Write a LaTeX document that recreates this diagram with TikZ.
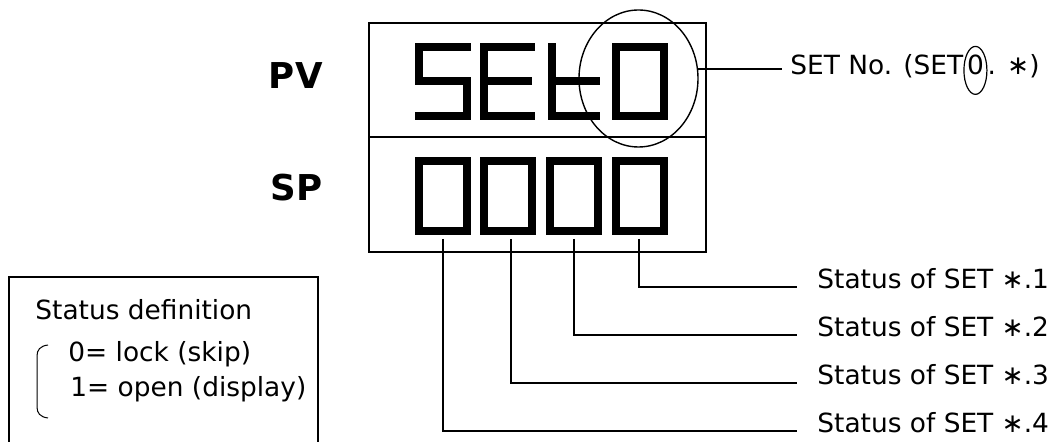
\documentclass[tikz,border=0pt]{standalone}
\usepackage{fontspec}
\setmainfont{DejaVu Sans}
\usetikzlibrary{positioning, calc, shapes.geometric}

\tikzset{
  seg/.style={line width=4pt, line cap=rect, line join=miter},
  lead/.style={line width=0.85pt},
  lbl/.style={font=\fontsize{13.2}{15}\selectfont, inner sep=0pt},
  tag/.style={font=\fontsize{17.8}{20}\selectfont\bfseries, inner sep=0pt, anchor=base east},
}

\begin{document}
\begin{tikzpicture}[x=0.5pt, y=-0.5pt]
  \useasboundingbox (0,0) rectangle (1057,442);
  % front panel, PV row above SP row
  \node[draw, line width=1pt, minimum width=168.5pt, minimum height=114.5pt, inner sep=0pt] (panel) at (537.5,137.5) {};
  \draw[line width=1pt] (panel.west) -- (panel.east);
  \node[tag] (pv) at (323,89) {PV};
  \node[tag] (sp) at (323,201) {SP};
  % PV row: S E t 0
  \draw[seg] (467,47) -- (419,47) -- (419,81) -- (467,81) -- (467,116) -- (419,116);
  \draw[seg] (531,47) -- (484,47) -- (484,116) -- (531,116) (484,81) -- (528,81);
  \draw[seg] (552,47) -- (552,116) -- (596,116) (552,81) -- (596,81);
  \draw[seg] (616,47) rectangle (664,116);
  % SP row: 0 0 0 0
  \foreach \x in {419,484,550,616}
    \draw[seg] (\x,161) rectangle ++(48,70);
  % SET number marker
  \node[draw, ellipse, line width=0.7pt, minimum width=59.5pt, minimum height=68.5pt] (ring) at (638.5,78.5) {};
  \node[lbl, anchor=base west] (setno) at (790,75) {SET No. (SET};
  \node[lbl, anchor=base west] (zero) at ([xshift=1.5pt]setno.base east) {0};
  \node[lbl, anchor=base west] (setend) at ([xshift=1.5pt]zero.base east) {. ∗)};
  \node[draw, ellipse, line width=0.6pt, minimum width=11.5pt, minimum height=24pt] (zring) at ([yshift=-2.5pt]zero.center) {};
  \draw[lead] (ring.9) -- ($(ring.9 -| setno.west)+(-8,0)$);
  % one leader per SP digit
  \foreach \i/\x/\y in {1/639/289, 2/574/337, 3/511/385, 4/443/433} {
    \coordinate (d\i) at (\x,239);
    \node[lbl, anchor=base west] (st\i) at (817,\y) {Status of SET ∗.\i};
    \draw[lead] (d\i) |- ($(st\i.base west)+(-20,-2)$);
  }
  % status definition legend
  \draw[line width=1.3pt] (9,442) -- (9,277) -- (318,277) -- (318,442);
  \node[lbl, anchor=base west] (legtitle) at (35,320) {Status definition};
  \node[lbl, anchor=base west] (leglock) at (68,362) {0= lock (skip)};
  \node[lbl, anchor=base west] (legopen) at (70,397) {1= open (display)};
  \draw[line width=0.5pt] (48,345) .. controls (40,346) and (37,350) .. (37,356)
    -- (37,407) .. controls (37,413) and (40,417) .. (48,418);
\end{tikzpicture}
\end{document}
